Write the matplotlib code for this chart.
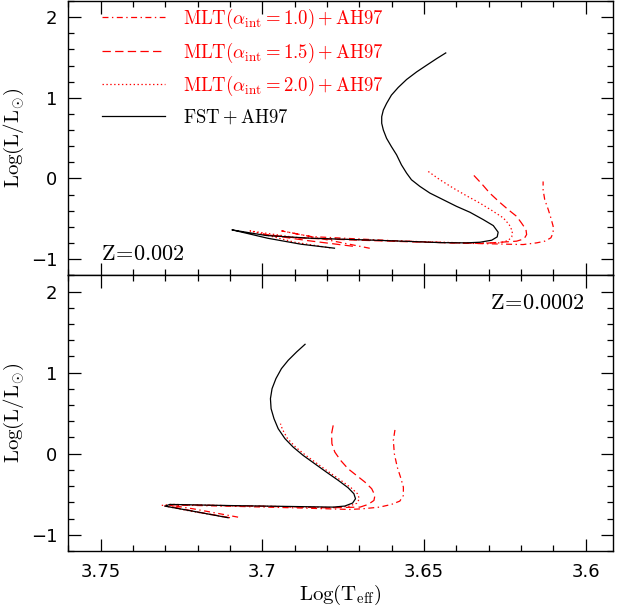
"""HR diagram tracks: MLT vs FST convection, two metallicities
"""

import matplotlib
matplotlib.use('Agg')
import matplotlib.pyplot as plt
from matplotlib.ticker import MultipleLocator, FuncFormatter

plt.rcParams['mathtext.fontset'] = 'cm'
plt.rcParams['font.family'] = 'DejaVu Sans'
plt.rcParams['lines.scale_dashes'] = False

# ---- Z = 0.002 (top panel) ----
fst_top_teff = [3.6777, 3.688, 3.6983, 3.7085, 3.7094, 3.6988, 3.6849, 3.6653, 3.6513,
                3.645, 3.6369, 3.6327, 3.6291, 3.6274, 3.6271, 3.6286, 3.6317, 3.6358,
                3.6400, 3.6441, 3.6482, 3.6513, 3.6539, 3.6554, 3.6570, 3.6585, 3.6601,
                3.6616, 3.6626, 3.6631, 3.6631, 3.6626, 3.6616, 3.6601, 3.6580, 3.6554,
                3.6523, 3.6492, 3.6461, 3.6433]
fst_top_lum = [-0.864, -0.815, -0.741, -0.645, -0.637, -0.707, -0.741, -0.765, -0.785,
               -0.795, -0.798, -0.790, -0.765, -0.724, -0.666, -0.584, -0.510, -0.419,
               -0.345, -0.263, -0.181, -0.098, -0.016, 0.066, 0.169, 0.293, 0.395,
               0.498, 0.601, 0.684, 0.766, 0.848, 0.930, 1.033, 1.128, 1.227,
               1.321, 1.404, 1.486, 1.556]

a20_top_teff = [3.679, 3.69, 3.7038, 3.69, 3.67, 3.65, 3.635, 3.6266, 3.6240, 3.6229,
                3.6227, 3.6237, 3.6255, 3.6291, 3.6328, 3.6369, 3.6410, 3.6451, 3.6490]
a20_top_lum = [-0.86, -0.79, -0.65, -0.73, -0.76, -0.785, -0.80, -0.798, -0.769, -0.724,
               -0.654, -0.572, -0.489, -0.395, -0.304, -0.214, -0.119, -0.016, 0.095]

a15_top_teff = [3.672, 3.686, 3.6998, 3.69, 3.67, 3.65, 3.632, 3.6214, 3.6191, 3.6183,
                3.6185, 3.6199, 3.6214, 3.6240, 3.6266, 3.6297, 3.6322, 3.6348]
a15_top_lum = [-0.84, -0.77, -0.69, -0.735, -0.765, -0.79, -0.805, -0.777, -0.749, -0.695,
               -0.633, -0.551, -0.469, -0.386, -0.296, -0.181, -0.065, 0.046]

a10_top_teff = [3.6668, 3.68, 3.694, 3.685, 3.66, 3.64, 3.6194, 3.6152, 3.6127, 3.6108,
                3.6101, 3.6101, 3.6108, 3.6116, 3.6127, 3.6132, 3.6132]
a10_top_lum = [-0.865, -0.76, -0.65, -0.72, -0.77, -0.80, -0.819, -0.798, -0.777, -0.736,
               -0.674, -0.592, -0.489, -0.386, -0.263, -0.140, -0.037]

# ---- Z = 0.0002 (bottom panel) ----
fst_bot_teff = [3.7106, 3.72, 3.7301, 3.7286, 3.71, 3.69, 3.6781, 3.6745, 3.6721, 3.6712,
                3.6717, 3.6735, 3.6765, 3.6802, 3.6838, 3.6874, 3.6905, 3.6930, 3.6951,
                3.6964, 3.6973, 3.6975, 3.6970, 3.6958, 3.6941, 3.6920, 3.6894, 3.6868]
fst_bot_lum = [-0.79, -0.72, -0.647, -0.626, -0.64, -0.652, -0.659, -0.646, -0.609, -0.556,
               -0.494, -0.420, -0.330, -0.227, -0.124, -0.021, 0.082, 0.185, 0.308,
               0.432, 0.555, 0.679, 0.802, 0.926, 1.049, 1.152, 1.255, 1.349]

a20_bot_teff = [3.711, 3.722, 3.7311, 3.728, 3.71, 3.69, 3.679, 3.6735, 3.6708, 3.6700,
                3.6706, 3.6726, 3.6757, 3.6794, 3.6830, 3.6866, 3.6897, 3.6922, 3.6938,
                3.6944]
a20_bot_lum = [-0.785, -0.71, -0.638, -0.625, -0.642, -0.655, -0.665, -0.652, -0.612, -0.556,
               -0.494, -0.42, -0.33, -0.227, -0.124, -0.02, 0.08, 0.185, 0.30, 0.37]

a15_bot_teff = [3.710, 3.72, 3.729, 3.727, 3.70, 3.68, 3.6698, 3.6673, 3.6655, 3.6652,
                3.6662, 3.6683, 3.6709, 3.6735, 3.6758, 3.6776, 3.6785, 3.6786, 3.6781]
a15_bot_lum = [-0.79, -0.72, -0.645, -0.63, -0.648, -0.668, -0.659, -0.626, -0.577, -0.515,
               -0.432, -0.350, -0.268, -0.186, -0.083, 0.020, 0.123, 0.247, 0.349]

a10_bot_teff = [3.7075, 3.7214, 3.727, 3.7255, 3.71, 3.69, 3.673, 3.6688, 3.6637, 3.6601,
                3.6575, 3.6564, 3.6564, 3.6573, 3.6583, 3.6592, 3.6595, 3.6590]
a10_bot_lum = [-0.783, -0.68, -0.645, -0.635, -0.648, -0.668, -0.688, -0.679, -0.659, -0.626,
               -0.585, -0.515, -0.412, -0.288, -0.165, 0.0, 0.164, 0.296]

labels = [r'$\mathrm{MLT(}\alpha_{\mathrm{int}}\mathrm{=1.0)+AH97}$',
          r'$\mathrm{MLT(}\alpha_{\mathrm{int}}\mathrm{=1.5)+AH97}$',
          r'$\mathrm{MLT(}\alpha_{\mathrm{int}}\mathrm{=2.0)+AH97}$',
          r'$\mathrm{FST+AH97}$']

STYLES = [
    dict(color='red', lw=0.9, linestyle=(0, (4.3, 2.5, 1.0, 2.5))),
    dict(color='red', lw=0.9, linestyle=(0, (6, 3.1))),
    dict(color='red', lw=0.9, linestyle=(0, (1, 1.8))),
    dict(color='black', lw=0.9, linestyle='-'),
]


def tick_fmt(v, pos):
    return ('%g' % v).replace('-', '\u2212')


def style_axes(ax, show_xlabels):
    ax.set_xlim(3.76, 3.5915)
    ax.set_ylim(-1.2, 2.2)
    ax.xaxis.set_major_locator(MultipleLocator(0.05))
    ax.xaxis.set_minor_locator(MultipleLocator(0.01))
    ax.yaxis.set_major_locator(MultipleLocator(1))
    ax.yaxis.set_minor_locator(MultipleLocator(0.2))
    ax.xaxis.set_major_formatter(FuncFormatter(tick_fmt))
    ax.yaxis.set_major_formatter(FuncFormatter(tick_fmt))
    ax.tick_params(which='both', direction='in', top=True, right=True,
                   labelsize=13, width=0.9)
    ax.tick_params(which='major', length=9)
    ax.tick_params(which='minor', length=4)
    ax.tick_params(axis='y', pad=8)
    ax.tick_params(axis='x', pad=9)
    if not show_xlabels:
        ax.tick_params(labelbottom=False)
    for s in ax.spines.values():
        s.set_linewidth(1.0)
    ax.set_ylabel(r'$\mathrm{Log(L/L_{\odot})}$', fontsize=15, labelpad=3)


fig = plt.figure(figsize=(6.19, 6.08), dpi=100)
ax1 = fig.add_axes([0.1103, 0.5472, 0.8805, 0.4512])
ax2 = fig.add_axes([0.1103, 0.0938, 0.8805, 0.4534])

top = [(a10_top_teff, a10_top_lum), (a15_top_teff, a15_top_lum),
       (a20_top_teff, a20_top_lum), (fst_top_teff, fst_top_lum)]
bot = [(a10_bot_teff, a10_bot_lum), (a15_bot_teff, a15_bot_lum),
       (a20_bot_teff, a20_bot_lum), (fst_bot_teff, fst_bot_lum)]

for (x, y), st, lab in zip(top, STYLES, labels):
    ax1.plot(x, y, label=lab, **st)
for (x, y), st in zip(bot, STYLES):
    ax2.plot(x, y, **st)

style_axes(ax1, False)
style_axes(ax2, True)
ax2.set_xlabel(r'$\mathrm{Log(T_{eff})}$', fontsize=15, labelpad=1)

leg = ax1.legend(loc='upper left', bbox_to_anchor=(0.03, 1.04), frameon=False,
                 fontsize=13.5, handlelength=3.37, handletextpad=1.0, labelspacing=0.5)
for txt, st in zip(leg.get_texts(), STYLES):
    txt.set_color(st['color'])

ax1.text(0.06, 0.055, r'$\mathrm{Z\!=\!0.002}$', transform=ax1.transAxes, fontsize=16)
ax2.text(0.774, 0.878, r'$\mathrm{Z\!=\!0.0002}$', transform=ax2.transAxes, fontsize=16)

plt.savefig('out.png', dpi=100)
